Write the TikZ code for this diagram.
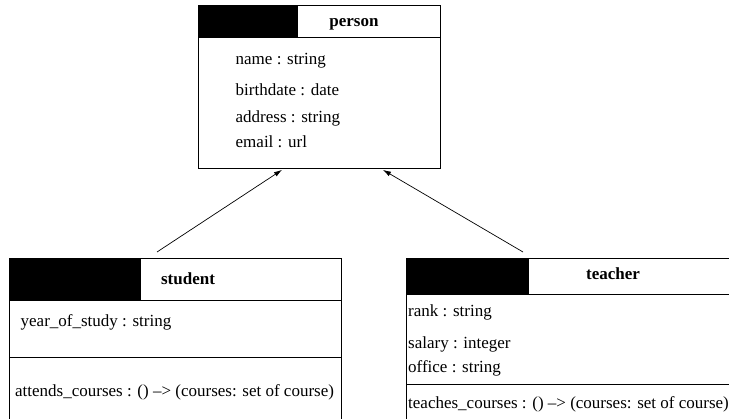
\documentclass[tikz,border=0pt]{standalone}
\usepackage{fontspec}
\setmainfont{Liberation Serif}
\usetikzlibrary{arrows.meta,calc}
\begin{document}
\begin{tikzpicture}[x=1pt,y=-1pt,
  box/.style={draw, line width=0.9pt, anchor=north west, inner sep=0pt},
  attr/.style={anchor=base west, inner sep=0pt, font=\fontsize{17}{20}\selectfont},
  title/.style={anchor=base, inner sep=0pt, font=\fontsize{17}{20}\selectfont\bfseries},
  sep/.style={line width=0.9pt},
  inh/.style={line width=0.7pt, -{Latex[length=8pt,width=5pt]}}]
\useasboundingbox (0,0) rectangle (729,419);
\begin{scope}
\clip (0,0) rectangle (729,419);
% person
\fill (198,5) rectangle (298,37);
\node[box, minimum width=242pt, minimum height=163pt] (person) at (198,5) {};
\draw[sep] (198,37) -- (440,37);
\node[title] (pt) at (354,27) {person};
\node[attr] (p1) at (235.5,65) {name : string};
\node[attr] (p2) at (235.5,95.5) {birthdate : date};
\node[attr] (p3) at (235.5,122.5) {address : string};
\node[attr] (p4) at (235.5,148) {email : url};
% student
\fill (9,258) rectangle (141,300);
\node[box, minimum width=332pt, minimum height=190pt] (student) at (9,258) {};
\draw[sep] (9,300) -- (341,300);
\draw[sep] (9,357) -- (341,357);
\node[title] (st) at (188,285) {student};
\node[attr] (s1) at (20.5,327) {year\_of\_study : string};
\node[attr] (s2) at (15,397) {attends\_courses : () \textendash> (courses: set of course)};
% teacher
\fill (406,258) rectangle (529,294);
\node[box, minimum width=360pt, minimum height=190pt] (teacher) at (406,258) {};
\draw[sep] (406,294) -- (766,294);
\draw[sep] (406,384) -- (766,384);
\node[title] (tt) at (613,279.5) {teacher};
\node[attr] (t1) at (408,317) {rank : string};
\node[attr] (t2) at (408,348.5) {salary : integer};
\node[attr] (t3) at (408,373) {office : string};
\node[attr] (t4) at (408,408.5) {teaches\_courses : () \textendash> (courses: set of course)};
% connectors
\coordinate (sa) at ($(student.north west)+(148,-6)$);
\coordinate (ta) at ($(teacher.north west)+(117,-6)$);
\coordinate (pa) at ($(person.south west)+(84,1)$);
\coordinate (pb) at ($(person.south west)+(185,1)$);
\draw[inh] (sa) -- (pa);
\draw[inh] (ta) -- (pb);
\end{scope}
\end{tikzpicture}
\end{document}
